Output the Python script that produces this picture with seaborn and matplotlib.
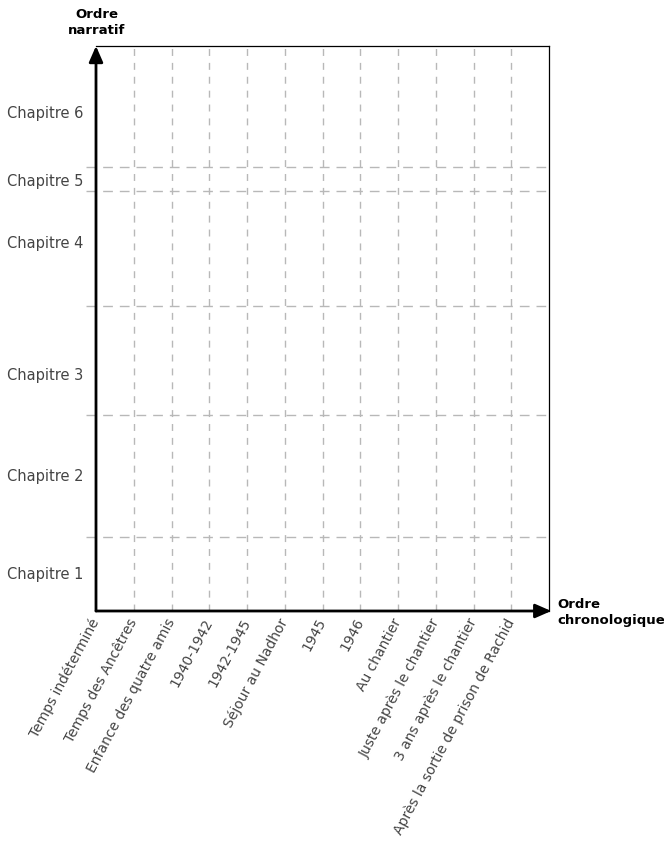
import matplotlib
matplotlib.use("Agg")
import matplotlib.pyplot as plt
import seaborn as sns

# chronological periods (x axis, categorical)
periods = [
    "Temps indéterminé",
    "Temps des Ancêtres",
    "Enfance des quatre amis",
    "1940-1942",
    "1942-1945",
    "Séjour au Nadhor",
    "1945",
    "1946",
    "Au chantier",
    "Juste après le chantier",
    "3 ans après le chantier",
    "Après la sortie de prison de Rachid",
]

# narrative order (y axis): chapter limits along the narrative
chapters = ["Chapitre 1", "Chapitre 2", "Chapitre 3", "Chapitre 4", "Chapitre 5", "Chapitre 6"]
chapter_limits = [0, 74, 196, 305, 420, 444, 565]
chapter_label_pos = [38, 136, 237, 369, 431, 499]

sns.set_theme(style="white")
plt.rcParams['font.family'] = ['DejaVu Sans']

fig = plt.figure(figsize=(6.64, 8.47), dpi=100)
ax = fig.add_axes([96 / 664, 1 - 611 / 847, 453 / 664, 565 / 847])

grid_color = "#b8b8b8"
n = len(periods)

# vertical dashed lines, one per period (the first sits on the axis)
for i in range(1, n):
    ax.plot([i, i], [chapter_limits[0], chapter_limits[-1]], color=grid_color,
            lw=1, linestyle=(0, (5, 5)), zorder=1)

# horizontal dashed lines at chapter boundaries
for b in chapter_limits[1:-1]:
    ax.plot([-0.27, n], [b, b], color=grid_color, lw=1,
            linestyle=(0, (7, 5)), clip_on=False, zorder=1)

ax.set_xlim(0, n)
ax.set_ylim(chapter_limits[0], chapter_limits[-1])

ax.set_xticks(range(n))
ax.set_xticklabels(periods, rotation=62, ha="right", va="center",
                   rotation_mode="anchor", fontsize=10, color="#444444")
ax.set_yticks(chapter_label_pos)
ax.set_yticklabels(chapters, fontsize=10.5, color="#444444")
ax.tick_params(axis="both", length=0)
ax.tick_params(axis="x", pad=6)
ax.tick_params(axis="y", pad=9)

for side in ["top", "right"]:
    ax.spines[side].set_color("black")
    ax.spines[side].set_linewidth(0.9)
for side in ["left", "bottom"]:
    ax.spines[side].set_visible(False)

# axis arrows
ax.annotate("", xy=(0, 1.0), xytext=(0, 0), xycoords="axes fraction",
            arrowprops=dict(arrowstyle="-|>,head_length=0.8,head_width=0.35",
                            color="black", lw=2, shrinkA=0, shrinkB=0))
ax.annotate("", xy=(1.005, 0), xytext=(0, 0), xycoords="axes fraction",
            arrowprops=dict(arrowstyle="-|>,head_length=0.8,head_width=0.35",
                            color="black", lw=2, shrinkA=0, shrinkB=0))

fig.text(97 / 664, 1 - 22 / 847, "Ordre\nnarratif", ha="center", va="center",
         fontsize=9.5, fontweight="bold", color="black", linespacing=1.3)
fig.text(557 / 664, 1 - 612 / 847, "Ordre\nchronologique", ha="left", va="center",
         fontsize=9.5, fontweight="bold", color="black", linespacing=1.3)

fig.savefig("out.png", dpi=100, facecolor="white")
